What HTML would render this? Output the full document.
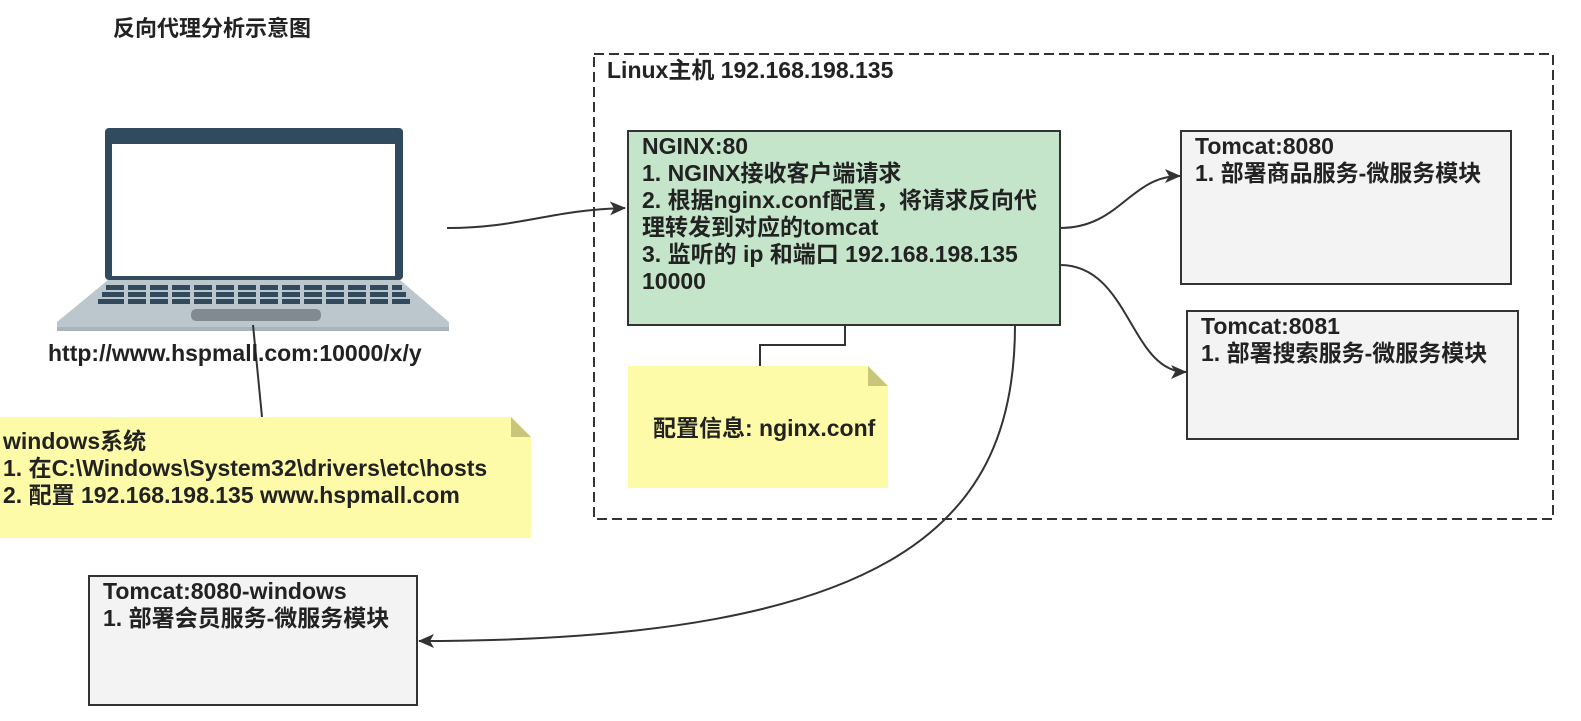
<!DOCTYPE html>
<html><head><meta charset="utf-8"><style>
body{margin:0;width:1581px;height:721px;background:#fff;position:relative;overflow:hidden;font-family:"Liberation Sans","Noto Sans CJK SC",sans-serif;font-weight:bold;color:#222;}
.b{position:absolute;box-sizing:border-box;font-size:23px;line-height:27px;white-space:nowrap;}
svg{position:absolute;left:0;top:0}
</style></head><body>
<svg width="1581" height="721">
<defs><marker id="a" markerWidth="16" markerHeight="14" refX="15" refY="7" orient="auto" markerUnits="userSpaceOnUse"><path d="M0,0 L16,7 L0,14 L4,7z" fill="#333"/></marker></defs>
<rect x="594" y="54" width="959" height="465" fill="none" stroke="#333" stroke-width="2" stroke-dasharray="10,5"/>
<rect x="105" y="128" width="298" height="152" rx="4" fill="#324a5e"/>
<rect x="112" y="144" width="283" height="132" fill="#fff"/>
<path d="M108,280 L400,280 L449,322 L449,330 L57,330 L57,322Z" fill="#bcc6cd"/>
<g fill="#324a5e">
<rect x="106" y="285" width="296" height="5"/><rect x="102" y="292" width="304" height="5"/><rect x="98" y="299" width="312" height="5"/>
</g>
<g stroke="#bcc6cd" stroke-width="4">
<path d="M126,284v22M148,284v22M170,284v22M192,284v22M214,284v22M236,284v22M258,284v22M280,284v22M302,284v22M324,284v22M346,284v22M368,284v22M390,284v22"/>
</g>
<rect x="191" y="309" width="130" height="12" rx="5" fill="#808a90"/>
<rect x="57" y="327" width="392" height="4" fill="#a9b3ba"/>
<path d="M447,228 C520,228 550,210 625,208" fill="none" stroke="#333" stroke-width="2" marker-end="url(#a)"/>
<path d="M253,325 L262,417" fill="none" stroke="#333" stroke-width="2"/>
<rect x="628" y="131" width="432" height="194" fill="#c5e5cb" stroke="#333" stroke-width="2"/>
<rect x="1181" y="131" width="330" height="153" fill="#f3f3f3" stroke="#333" stroke-width="2"/>
<rect x="1187" y="311" width="331" height="128" fill="#f3f3f3" stroke="#333" stroke-width="2"/>
<rect x="89" y="576" width="328" height="129" fill="#f3f3f3" stroke="#333" stroke-width="2"/>
<path d="M628,366 H868 L888,386 V488 H628Z" fill="#fefba8"/><path d="M868,366 L888,386 H868Z" fill="#c9c67a"/>
<path d="M0,417 H511 L531,437 V538 H0Z" fill="#fefba8"/><path d="M511,417 L531,437 H511Z" fill="#c9c67a"/>
<path d="M845,325 V345 H760 V366" fill="none" stroke="#333" stroke-width="2"/>
<path d="M1060,228 C1120,228 1130,176 1180,176" fill="none" stroke="#333" stroke-width="2" marker-end="url(#a)"/>
<path d="M1060,265 C1130,265 1130,372 1186,372" fill="none" stroke="#333" stroke-width="2" marker-end="url(#a)"/>
<path d="M1015,325 C1015,520 900,641 419,641" fill="none" stroke="#333" stroke-width="2" marker-end="url(#a)"/>
</svg>
<div class="b" style="left:113px;top:15px;font-size:22px">反向代理分析示意图</div>
<div class="b" style="left:607px;top:57px">Linux主机 192.168.198.135</div>
<div class="b" style="left:642px;top:133px">NGINX:80<br>1. NGINX接收客户端请求<br>2. 根据nginx.conf配置，将请求反向代<br>理转发到对应的tomcat<br>3. 监听的 ip 和端口 192.168.198.135<br>10000</div>
<div class="b" style="left:1195px;top:133px">Tomcat:8080<br>1. 部署商品服务-微服务模块</div>
<div class="b" style="left:1201px;top:313px">Tomcat:8081<br>1. 部署搜索服务-微服务模块</div>
<div class="b" style="left:103px;top:578px">Tomcat:8080-windows<br>1. 部署会员服务-微服务模块</div>
<div class="b" style="left:653px;top:415px">配置信息: nginx.conf</div>
<div class="b" style="left:3px;top:428px">windows系统<br>1. 在C:\Windows\System32\drivers\etc\hosts<br>2. 配置 192.168.198.135 www.hspmall.com</div>
<div class="b" style="left:48px;top:340px">http://www.hspmall.com:10000/x/y</div>
</body></html>
